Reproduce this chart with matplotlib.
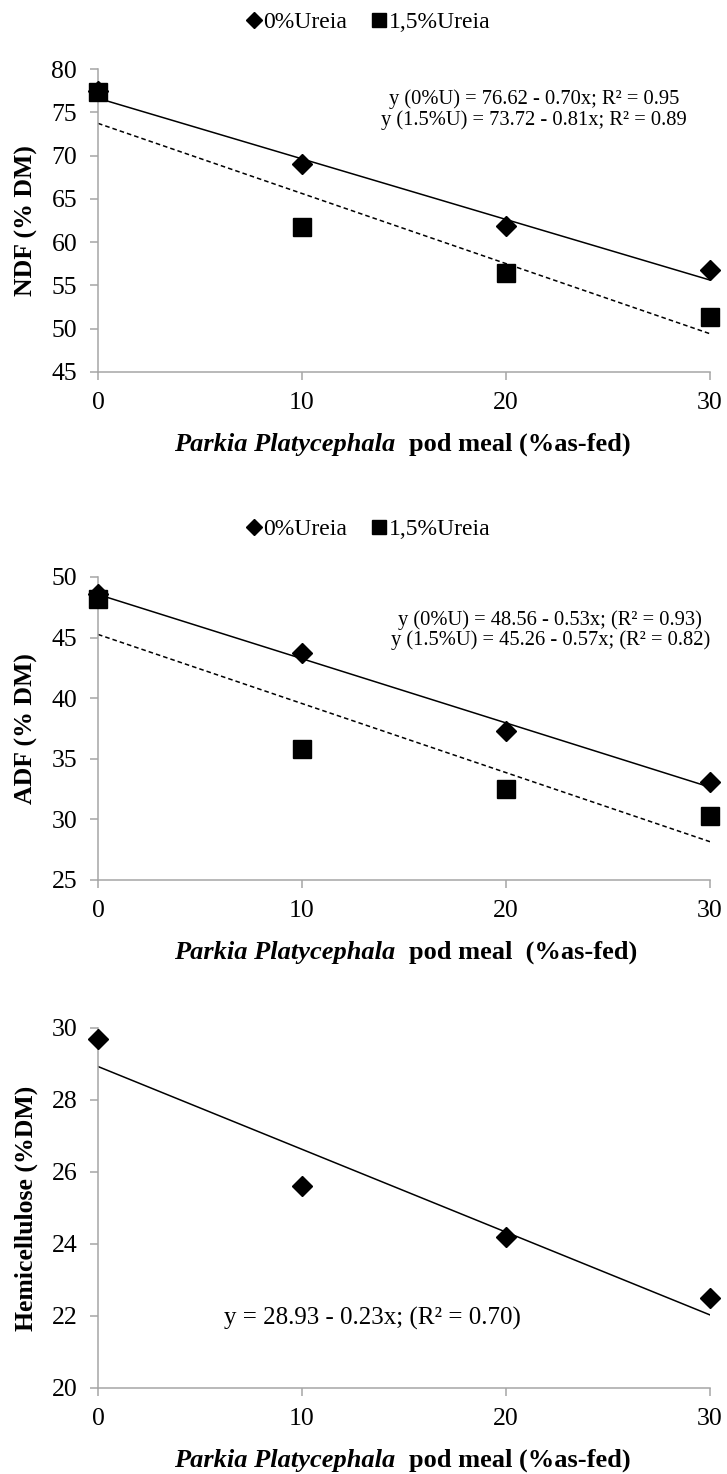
import matplotlib
matplotlib.use('Agg')
import matplotlib.pyplot as plt
import numpy as np
from matplotlib.lines import Line2D

plt.rcParams['font.family'] = ['Liberation Serif', 'DejaVu Serif']

# dados
nivel = [0, 10, 20, 30]   # Parkia pod meal (%as-fed)

ndf_0 = [77.5, 69.0, 61.9, 56.8]
ndf_15 = [77.3, 61.8, 56.4, 51.4]
adf_0 = [48.6, 43.7, 37.3, 33.1]
adf_15 = [48.2, 35.8, 32.5, 30.3]
hemi = [29.7, 25.6, 24.2, 22.5]

# coeficientes das regressoes (intercepto, inclinacao)
reg_ndf_0 = (76.62, -0.70)
reg_ndf_15 = (73.72, -0.81)
reg_adf_0 = (48.56, -0.53)
reg_adf_15 = (45.26, -0.57)
reg_hemi = (28.93, -0.23)

eq_ndf = ['y (0%U) = 76.62 - 0.70x; R² = 0.95', 'y (1.5%U) = 73.72 - 0.81x; R² = 0.89']
eq_adf = ['y (0%U) = 48.56 - 0.53x; (R² = 0.93)', 'y (1.5%U) = 45.26 - 0.57x; (R² = 0.82)']
eq_hemi = 'y = 28.93 - 0.23x; (R² = 0.70)'

legenda = ['0%Ureia', '1,5%Ureia']

cinza = '#a6a6a6'
W, H = 727, 1474
fig = plt.figure(figsize=(W/100, H/100), dpi=100)

def eixo(top, bottom):
	return fig.add_axes([98/W, 1 - bottom/H, 612/W, (bottom - top)/H])

def estilo(ax, ymin, ymax, passo, ylabel):
	ax.set_xlim(0, 30)
	ax.set_ylim(ymin, ymax)
	ax.set_xticks(nivel)
	ax.set_yticks(np.arange(ymin, ymax + passo/2, passo))
	for s in ['top', 'right']:
		ax.spines[s].set_visible(False)
	for s in ['left', 'bottom']:
		ax.spines[s].set_color(cinza)
		ax.spines[s].set_linewidth(1.1)
	ax.tick_params(direction='out', length=6, width=1.1, color=cinza, labelsize=18.5)
	ax.tick_params(axis='x', pad=8.5)
	ax.tick_params(axis='y', pad=9)
	ax.text(-0.1165, 0.5, ylabel, transform=ax.transAxes, rotation=90, ha='center', va='center',
		fontsize=18.5, fontweight='bold')

def xlabel(ax, yfrac, resto):
	ax.text(0.485, yfrac, 'Parkia Platycephala', transform=ax.transAxes, ha='right', va='center',
		fontsize=19, fontweight='bold', style='italic')
	ax.text(0.508, yfrac, resto, transform=ax.transAxes, ha='left', va='center',
		fontsize=19, fontweight='bold')

def reta(ax, coef, ls):
	xx = np.array([nivel[0], nivel[-1]])
	ax.plot(xx, coef[0] + coef[1]*xx, color='black', lw=1.1, ls=ls, zorder=2)

def pontos(ax, y, m):
	if m == 'D':
		ax.plot(nivel, y, 'D', color='black', markersize=10.5, clip_on=False, zorder=3)
	else:
		ax.plot(nivel, y, 's', color='black', markersize=13, clip_on=False, zorder=3)

def leg(ax, yfig):
	h = [Line2D([], [], marker='D', color='black', ls='none', markersize=8),
		Line2D([], [], marker='s', color='black', ls='none', markersize=10.5)]
	ax.legend(h, legenda, loc='center', bbox_to_anchor=(368/W, yfig), bbox_transform=fig.transFigure,
		ncol=2, frameon=False, fontsize=17, handlelength=0.7, handletextpad=0.05, columnspacing=1.0,
		borderpad=0, borderaxespad=0)

def equacoes(ax, linhas, xfrac, yfracs):
	for t, yf in zip(linhas, yfracs):
		ax.text(xfrac, yf, t, transform=ax.transAxes, ha='center', va='center', fontsize=14.8)

# NDF
ax1 = eixo(69, 372)
estilo(ax1, 45, 80, 5, 'NDF (% DM)')
reta(ax1, reg_ndf_0, '-')
reta(ax1, reg_ndf_15, (0, (3, 2)))
pontos(ax1, ndf_0, 'D')
pontos(ax1, ndf_15, 's')
equacoes(ax1, eq_ndf, 0.7124, [0.900, 0.832])
xlabel(ax1, -0.240, 'pod meal (%as-fed)')
leg(ax1, 1 - 22/H)

# ADF
ax2 = eixo(577, 880)
estilo(ax2, 25, 50, 5, 'ADF (% DM)')
reta(ax2, reg_adf_0, '-')
reta(ax2, reg_adf_15, (0, (3, 2)))
pontos(ax2, adf_0, 'D')
pontos(ax2, adf_15, 's')
equacoes(ax2, eq_adf, 0.739, [0.857, 0.792])
xlabel(ax2, -0.240, 'pod meal  (%as-fed)')
leg(ax2, 1 - 529/H)

# Hemicelulose
ax3 = eixo(1028, 1388)
estilo(ax3, 20, 30, 2, 'Hemicellulose (%DM)')
reta(ax3, reg_hemi, '-')
pontos(ax3, hemi, 'D')
ax3.text(0.448, 21.92, eq_hemi, transform=ax3.get_yaxis_transform(), ha='center', va='center', fontsize=18)
xlabel(ax3, -0.202, 'pod meal (%as-fed)')

fig.savefig('out.png', dpi=100, facecolor='white')
